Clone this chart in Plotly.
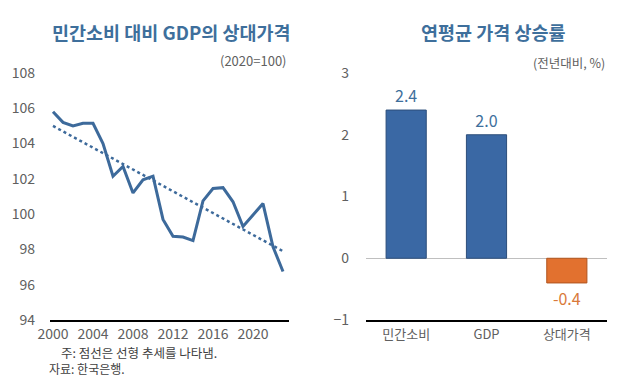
import plotly.graph_objects as go

years = list(range(2000, 2024))
rel_price = [105.8, 105.2, 105.0, 105.15, 105.15, 104.0, 102.15, 102.7, 101.2, 101.95,
             102.15, 99.7, 98.75, 98.7, 98.5, 100.75, 101.45, 101.5, 100.7, 99.3,
             99.95, 100.6, 98.15, 96.75]
trend_years = [2000, 2023]
trend_vals = [105.0, 97.9]

categories = ["민간소비", "GDP", "상대가격"]
growth = [2.4, 2.0, -0.4]
growth_text = ["2.4", "2.0", "-0.4"]

FONT = "Noto Sans CJK KR"
BLUE = "#3D6A9B"
BAR_BLUE = "#3A68A4"
ORANGE = "#E2712F"
TITLE = "#3E6F9C"
GRAY = "#606060"

fig = go.Figure()
fig.add_trace(go.Scatter(x=years, y=rel_price, mode="lines",
                         line=dict(color=BLUE, width=3), xaxis="x", yaxis="y",
                         showlegend=False))
fig.add_trace(go.Scatter(x=trend_years, y=trend_vals, mode="lines",
                         line=dict(color=BLUE, width=2.5, dash="dot"), xaxis="x", yaxis="y",
                         showlegend=False))

bar_colors = [BAR_BLUE if v >= 0 else ORANGE for v in growth]
line_colors = ["#2C4E7A" if v >= 0 else "#B0551F" for v in growth]
text_colors = [TITLE if v >= 0 else "#D9793A" for v in growth]
fig.add_trace(go.Bar(x=categories, y=growth, marker=dict(color=bar_colors,
                     line=dict(color=line_colors, width=1)),
                     width=0.5, text=growth_text, textposition="outside",
                     textfont=dict(color=text_colors, size=16, family=FONT),
                     cliponaxis=False, xaxis="x2", yaxis="y2", showlegend=False))

ydom = [1 - 320 / 380, 1 - 73 / 380]
tickfont = dict(family=FONT, size=14, color=GRAY)

fig.update_layout(
    width=640, height=380,
    margin=dict(l=0, r=0, t=0, b=0),
    paper_bgcolor="white", plot_bgcolor="white",
    font=dict(family=FONT, color=GRAY),
    xaxis=dict(domain=[50 / 640, 289 / 640], range=[1999.7, 2023.6],
               tickvals=[2000, 2004, 2008, 2012, 2016, 2020], ticks="",
               showgrid=False, zeroline=False, showline=True, linecolor="black",
               linewidth=2, tickfont=tickfont, ticklabelstandoff=0, automargin=False),
    yaxis=dict(domain=ydom, range=[94, 108], dtick=2, showgrid=False,
               zeroline=False, showline=False, tickfont=tickfont,
               ticklabelstandoff=14, automargin=False),
    xaxis2=dict(domain=[366 / 640, 607 / 640], anchor="y2", showgrid=False,
                zeroline=False, showline=True, linecolor="black", linewidth=2,
                tickfont=dict(family=FONT, size=13, color=GRAY), ticks="",
                ticklabelstandoff=1, automargin=False),
    yaxis2=dict(domain=ydom, anchor="x2", range=[-1, 3], dtick=1, showgrid=False,
                zeroline=True, zerolinecolor="#BFBFBF", zerolinewidth=1,
                tickfont=tickfont, ticklabelstandoff=16, automargin=False),
    bargap=0.5,
    annotations=[
        dict(text="<b>민간소비 대비 GDP의 상대가격</b>", x=171 / 640, y=1 - 32 / 380,
             xref="paper", yref="paper", showarrow=False, xanchor="center", yanchor="middle",
             font=dict(family=FONT, size=18.5, color=TITLE)),
        dict(text="(2020=100)", x=289 / 640, y=1 - 61 / 380, xref="paper", yref="paper",
             showarrow=False, xanchor="right", yanchor="middle",
             font=dict(family=FONT, size=13, color=GRAY)),
        dict(text="<b>연평균 가격 상승률</b>", x=493 / 640, y=1 - 32 / 380,
             xref="paper", yref="paper", showarrow=False, xanchor="center", yanchor="middle",
             font=dict(family=FONT, size=18.5, color=TITLE)),
        dict(text="(전년대비, %)", x=607 / 640, y=1 - 62 / 380, xref="paper", yref="paper",
             showarrow=False, xanchor="right", yanchor="middle",
             font=dict(family=FONT, size=12.5, color=GRAY)),
        dict(text="주: 점선은 선형 추세를 나타냄.", x=60 / 640, y=1 - 352 / 380,
             xref="paper", yref="paper", showarrow=False, xanchor="left", yanchor="middle",
             font=dict(family=FONT, size=12.5, color="#404040"), borderpad=0),
        dict(text="자료: 한국은행.", x=48 / 640, y=1 - 368 / 380,
             xref="paper", yref="paper", showarrow=False, xanchor="left", yanchor="middle",
             font=dict(family=FONT, size=12, color="#404040"), borderpad=0),
    ],
)

fig.write_html("out.html", config={"displayModeBar": False},
               post_script="document.body.style.margin='0';document.body.style.overflow='hidden';")
